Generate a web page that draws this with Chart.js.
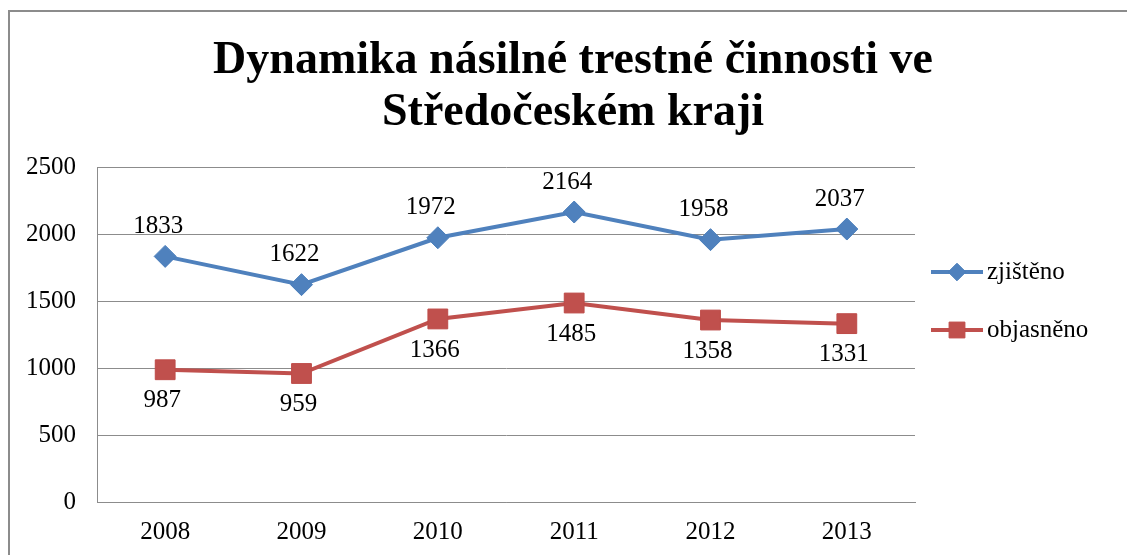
<!DOCTYPE html>
<html>
<head>
<meta charset="utf-8">
<script src="https://cdn.jsdelivr.net/npm/chart.js@4"></script>
<style>
html, body { margin: 0; padding: 0; background: #fff; }
#wrap { position: relative; width: 1127px; height: 555px; overflow: hidden; }
#frame { position: absolute; left: 8px; top: 10px; width: 1200px; height: 600px;
         border-top: 2px solid #8c8c8c; border-left: 2px solid #8c8c8c; pointer-events: none; }
canvas { display: block; }
</style>
</head>
<body>
<div id="wrap">
    <canvas id="myChart" width="1127" height="555"></canvas>
    <div id="frame"></div>
</div>
<script>
// Datos del gráfico
var roky = ['2008', '2009', '2010', '2011', '2012', '2013'];
var zjisteno = [1833, 1622, 1972, 2164, 1958, 2037];
var objasneno = [987, 959, 1366, 1485, 1358, 1331];
var nazvyRad = ['zjištěno', 'objasněno'];
var osaY = [0, 500, 1000, 1500, 2000, 2500];
var nazevGrafu = ['Dynamika násilné trestné činnosti ve', 'Středočeském kraji'];

var pismo = '"Liberation Serif", "Times New Roman", serif';

// Título en dos líneas, centrado como en el original
var titulekPlugin = {
    id: 'titulek',
    afterDraw: function (chart) {
        var ctx = chart.ctx;
        ctx.save();
        ctx.font = 'bold 46px ' + pismo;
        ctx.fillStyle = '#000';
        ctx.textAlign = 'center';
        ctx.textBaseline = 'alphabetic';
        ctx.fillText(nazevGrafu[0], 573, 73);
        ctx.fillText(nazevGrafu[1], 573, 125);
        ctx.restore();
    }
};

// Etiquetas de valores junto a cada punto
var popiskyPlugin = {
    id: 'popisky',
    afterDatasetsDraw: function (chart) {
        var ctx = chart.ctx;
        ctx.save();
        ctx.font = '25px ' + pismo;
        ctx.fillStyle = '#000';
        ctx.textAlign = 'center';
        ctx.textBaseline = 'middle';
        chart.data.datasets.forEach(function (ds, i) {
            var meta = chart.getDatasetMeta(i);
            var dy = i === 0 ? -30 : 31;
            var dx = i === 0 ? -7 : -3;
            meta.data.forEach(function (pt, j) {
                ctx.fillText(String(ds.data[j]), pt.x + dx, pt.y + dy);
            });
        });
        ctx.restore();
    }
};

// Leyenda a la derecha: línea con marcador
var legendaPlugin = {
    id: 'legenda',
    afterDraw: function (chart) {
        var ctx = chart.ctx;
        var x0 = chart.chartArea.right + 16;
        chart.data.datasets.forEach(function (ds, i) {
            var y = 272 + i * 58;
            ctx.save();
            ctx.strokeStyle = ds.borderColor;
            ctx.lineWidth = ds.borderWidth;
            ctx.beginPath();
            ctx.moveTo(x0, y);
            ctx.lineTo(x0 + 52, y);
            ctx.stroke();
            ctx.fillStyle = ds.pointBackgroundColor;
            ctx.strokeStyle = ds.pointBorderColor;
            ctx.lineWidth = 1;
            Chart.helpers.drawPoint(ctx, {
                pointStyle: ds.pointStyle,
                radius: ds.pointRadius * 0.8,
                borderWidth: 1,
                rotation: 0
            }, x0 + 26, y);
            ctx.font = '25px ' + pismo;
            ctx.fillStyle = '#000';
            ctx.textAlign = 'left';
            ctx.textBaseline = 'middle';
            ctx.fillText(ds.label, x0 + 56, y);
            ctx.restore();
        });
    }
};

var ctx = document.getElementById('myChart').getContext('2d');
var myChart = new Chart(ctx, {
    type: 'line',
    data: {
        labels: roky,
        datasets: [{
            label: nazvyRad[0],
            data: zjisteno,
            borderColor: '#4F81BD',
            borderWidth: 4,
            pointStyle: 'rectRot',
            pointRadius: 11,
            pointBackgroundColor: '#4F81BD',
            pointBorderColor: '#4A7EBB',
            pointBorderWidth: 1,
            tension: 0
        }, {
            label: nazvyRad[1],
            data: objasneno,
            borderColor: '#C0504D',
            borderWidth: 4,
            pointStyle: 'rect',
            pointRadius: 14,
            pointBackgroundColor: '#C0504D',
            pointBorderColor: '#BE4B48',
            pointBorderWidth: 1,
            tension: 0
        }]
    },
    options: {
        responsive: false,
        animation: false,
        layout: { padding: { top: 167, right: 212, left: 0, bottom: 0 } },
        plugins: {
            legend: { display: false },
            title: { display: false },
            tooltip: { enabled: false }
        },
        scales: {
            x: {
                offset: true,
                grid: { display: false, drawTicks: false },
                border: { display: true, color: '#8c8c8c' },
                ticks: { color: '#000', padding: 15, font: { size: 25, family: pismo } },
                afterFit: function (scale) { scale.height = 53; }
            },
            y: {
                min: 0,
                max: 2500,
                afterBuildTicks: function (scale) {
                    scale.ticks = osaY.map(function (v) { return { value: v }; });
                },
                grid: { color: '#8c8c8c', drawTicks: false },
                border: { display: true, color: '#8c8c8c' },
                ticks: {
                    color: '#000',
                    padding: 21,
                    font: { size: 25, family: pismo },
                    callback: function (value) { return String(value); }
                },
                afterFit: function (scale) { scale.width = 97; }
            }
        }
    },
    plugins: [titulekPlugin, popiskyPlugin, legendaPlugin]
});
</script>
</body>
</html>
